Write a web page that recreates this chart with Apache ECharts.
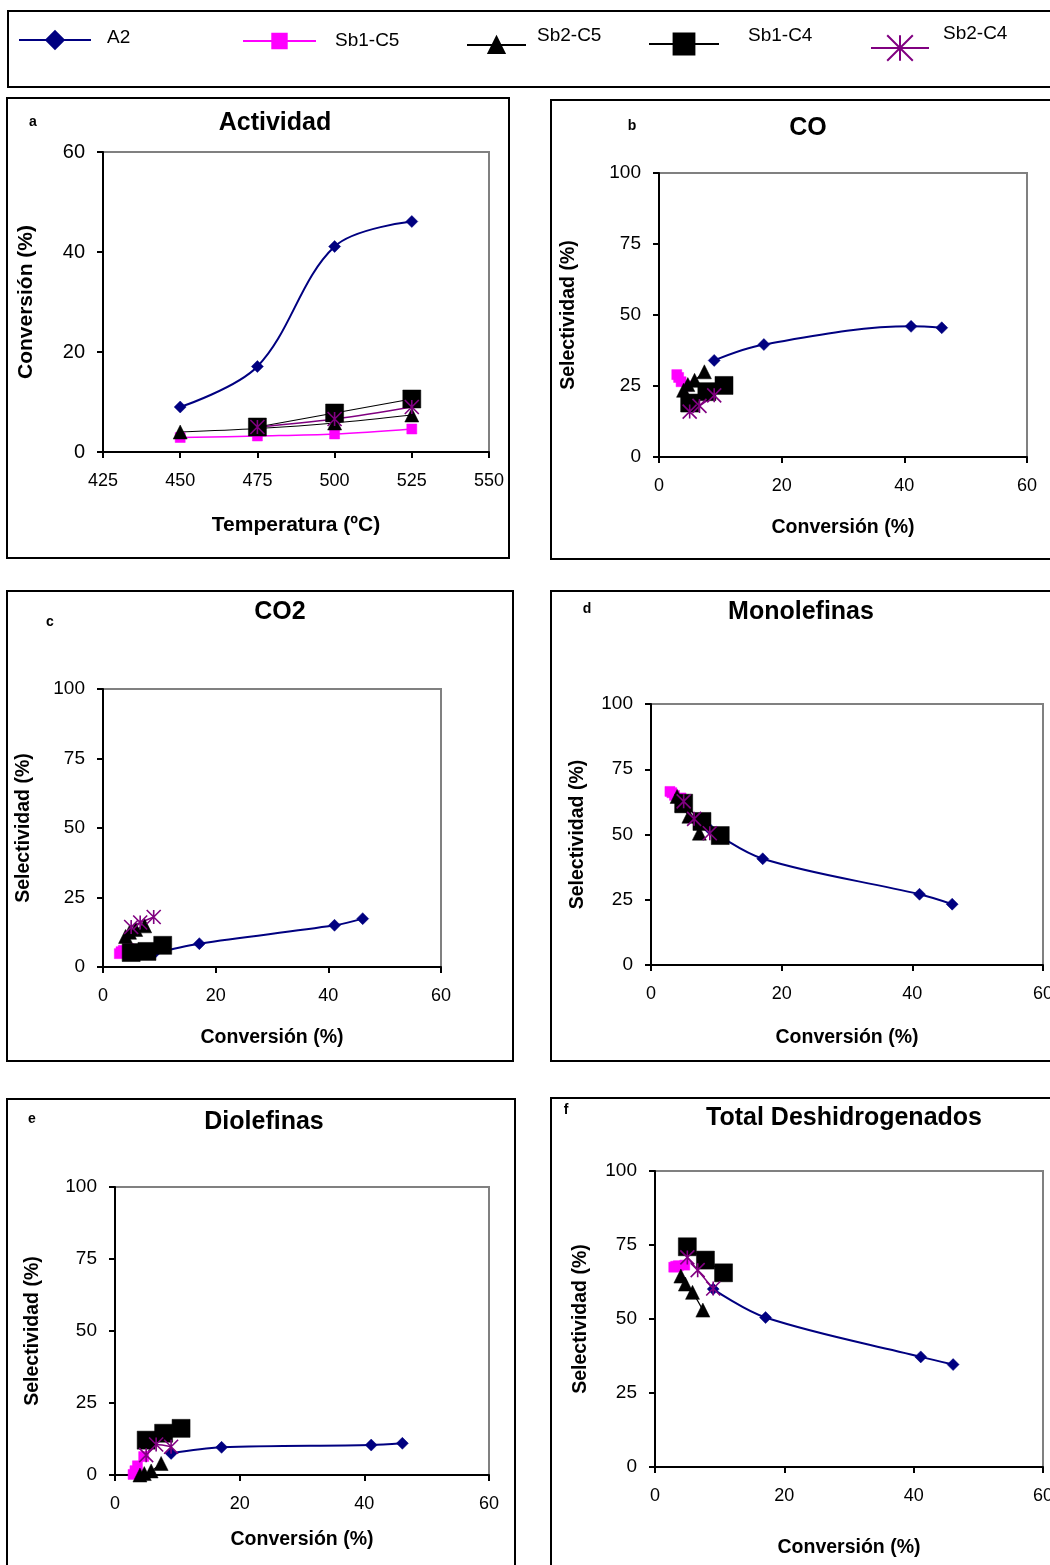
<!DOCTYPE html>
<html>
  <head>
    <meta charset="utf-8" />
    <title>Actividad y selectividad</title>
    <script src="https://cdn.jsdelivr.net/npm/echarts/dist/echarts.min.js"></script>
    <style>
      html, body { margin: 0; padding: 0; background: #fff; }
    </style>
  </head>
  <body>
    <div id="main" style="width: 1050px; height: 1565px"></div>
    <script type="text/javascript">
      // ---- data ----
      var catalysts = ["A2", "Sb1-C5", "Sb2-C5", "Sb1-C4", "Sb2-C4"];
      var temps = [450, 475, 500, 525];
      var tempsC4 = [475, 500, 525];

      // conversion (%) at each temperature
      var convA2 = [9.0, 17.1, 41.1, 46.1];
      var convSb1C5 = [2.9, 3.2, 3.6, 4.6];
      var convSb2C5 = [4.0, 4.7, 5.8, 7.4];
      var convSb1C4 = [5.0, 7.8, 10.6];
      var convSb2C4 = [5.0, 6.6, 9.0];

      // selectividad CO (%)
      var coA2 = [34, 39.6, 46, 45.5];
      var coSb1C5 = [29, 28, 26.5, 25];
      var coSb2C5 = [23.5, 25.5, 27, 30];
      var coSb1C4 = [19, 23, 25.2];
      var coSb2C4 = [16, 18, 21.7];

      // selectividad CO2 (%)
      var co2A2 = [4.8, 8.4, 15, 17.4];
      var co2Sb1C5 = [4.8, 5.5, 6, 6.6];
      var co2Sb2C5 = [11, 12.5, 13.5, 14.8];
      var co2Sb1C4 = [5.2, 5.6, 7.8];
      var co2Sb2C4 = [14.4, 16, 18];

      // selectividad monolefinas (%)
      var monoA2 = [52, 40.7, 27.1, 23.3];
      var monoSb1C5 = [66.5, 66, 65, 64];
      var monoSb2C5 = [64.6, 61, 57, 50.5];
      var monoSb1C4 = [62, 55, 49.6];
      var monoSb2C4 = [62.7, 56, 50.5];

      // selectividad diolefinas (%)
      var dioA2 = [7.5, 9.6, 10.4, 11];
      var dioSb1C5 = [0.2, 1.5, 3.2, 6.4];
      var dioSb2C5 = [0, 0.5, 1.4, 4];
      var dioSb1C4 = [12.1, 14.5, 16.2];
      var dioSb2C4 = [6.9, 10.6, 9.8];

      // selectividad total deshidrogenados (%)
      var totA2 = [60.1, 50.5, 37.2, 34.6];
      var totSb1C5 = [67.5, 67.8, 68, 68.2];
      var totSb2C5 = [64.5, 61.8, 59, 53];
      var totSb1C4 = [74.4, 69.9, 65.6];
      var totSb2C4 = [70.8, 66.5, 60.3];

      // ---- drawing ----
      var FONT = '"Liberation Sans", Arial, sans-serif';
      var starPath = "path://M0,0L20,20M20,0L0,20M10,0L10,20";

      var look = {
        "A2": { symbol: "diamond", size: 12, color: "#000080", width: 2 },
        "Sb1-C5": { symbol: "rect", size: 10, color: "#ff00ff", width: 1.5 },
        "Sb2-C5": { symbol: "triangle", size: 14, color: "#000000", width: 1.2 },
        "Sb1-C4": { symbol: "rect", size: 18, color: "#000000", width: 1.2 },
        "Sb2-C4": { symbol: starPath, size: 14, color: "#800080", width: 1.5 }
      };

      function zip(xs, ys) {
        return xs.map(function (x, i) { return [x, ys[i]]; });
      }

      var conv = [convA2, convSb1C5, convSb2C5, convSb1C4, convSb2C4];
      var panels = [
        { letter: "a", title: "Actividad", grid: [103, 152, 386, 300],
          sets: [zip(temps, convA2), zip(temps, convSb1C5), zip(temps, convSb2C5), zip(tempsC4, convSb1C4), zip(tempsC4, convSb2C4)] },
        { letter: "b", title: "CO", grid: [659, 173, 368, 284],
          sets: [coA2, coSb1C5, coSb2C5, coSb1C4, coSb2C4].map(function (s, k) { return zip(conv[k], s); }) },
        { letter: "c", title: "CO2", grid: [103, 689, 338, 278],
          sets: [co2A2, co2Sb1C5, co2Sb2C5, co2Sb1C4, co2Sb2C4].map(function (s, k) { return zip(conv[k], s); }) },
        { letter: "d", title: "Monolefinas", grid: [651, 704, 392, 261],
          sets: [monoA2, monoSb1C5, monoSb2C5, monoSb1C4, monoSb2C4].map(function (s, k) { return zip(conv[k], s); }) },
        { letter: "e", title: "Diolefinas", grid: [115, 1187, 374, 288],
          sets: [dioA2, dioSb1C5, dioSb2C5, dioSb1C4, dioSb2C4].map(function (s, k) { return zip(conv[k], s); }) },
        { letter: "f", title: "Total Deshidrogenados", grid: [655, 1171, 388, 296],
          sets: [totA2, totSb1C5, totSb2C5, totSb1C4, totSb2C4].map(function (s, k) { return zip(conv[k], s); }) }
      ];

      // label placement per panel: [titleX, titleY, letterX, letterY, xNameGap, yNameGap]
      var place = [
        [275, 123, 33, 122, 63, 66],
        [808, 128, 632, 126, 61, 80],
        [280, 612, 50, 622, 61, 69],
        [801, 612, 587, 609, 63, 63],
        [264, 1122, 32, 1119, 55, 72],
        [844, 1118, 566, 1110, 71, 64]
      ];
      var boxes = [
        [8, 11, 1050, 76],
        [7, 98, 502, 460],
        [551, 100, 510, 459],
        [7, 591, 506, 470],
        [551, 591, 510, 470],
        [7, 1099, 508, 480],
        [551, 1098, 510, 480]
      ];

      var axisLine = { show: true, onZero: false, lineStyle: { color: "#000", width: 2 } };
      var axisTick = { show: true, length: 6, lineStyle: { color: "#000", width: 2 } };

      var grids = [], xAxes = [], yAxes = [], series = [], graphic = [];

      boxes.forEach(function (b) {
        graphic.push({ type: "rect", silent: true, shape: { x: b[0], y: b[1], width: b[2], height: b[3] },
          style: { fill: "none", stroke: "#000", lineWidth: 2 } });
      });

      function addText(txt, x, y, font, align) {
        graphic.push({ type: "text", silent: true, x: x, y: y,
          style: { text: txt, font: font, fill: "#000",
            textAlign: align, textVerticalAlign: "middle", align: align, verticalAlign: "middle" } });
      }

      panels.forEach(function (p, i) {
        var pl = place[i];
        grids.push({ left: p.grid[0], top: p.grid[1], width: p.grid[2], height: p.grid[3],
          show: true, borderColor: "#808080", borderWidth: 2, containLabel: false, outerBoundsMode: "none" });
        var first = i === 0;
        xAxes.push({
          gridIndex: i, type: "value",
          min: first ? 425 : 0, max: first ? 550 : 60, interval: first ? 25 : 20,
          axisLine: axisLine, axisTick: axisTick, splitLine: { show: false },
          axisLabel: { color: "#000", fontSize: 18, fontFamily: FONT, margin: 20, showMaxLabel: true, showMinLabel: true },
          name: first ? "Temperatura (ºC)" : "Conversión (%)",
          nameLocation: "middle", nameGap: pl[4],
          nameTextStyle: { color: "#000", fontWeight: "bold", fontSize: first ? 21 : 19.5, fontFamily: FONT }
        });
        yAxes.push({
          gridIndex: i, type: "value",
          min: 0, max: first ? 60 : 100, interval: first ? 20 : 25,
          axisLine: axisLine, axisTick: axisTick, splitLine: { show: false },
          axisLabel: { color: "#000", fontSize: first ? 20 : 19, fontFamily: FONT, margin: 18 },
          name: first ? "Conversión (%)" : "Selectividad (%)",
          nameLocation: "middle", nameGap: pl[5],
          nameTextStyle: { color: "#000", fontWeight: "bold", fontSize: first ? 21 : 19.5, fontFamily: FONT }
        });
        catalysts.forEach(function (name, k) {
          var s = look[name];
          series.push({
            name: name, type: "line", xAxisIndex: i, yAxisIndex: i,
            data: p.sets[k], smooth: 0.35,
            symbol: s.symbol, symbolSize: s.size, showAllSymbol: true,
            lineStyle: { color: s.color, width: s.width },
            itemStyle: { color: s.color, borderColor: s.color, borderWidth: name === "Sb2-C4" ? 1.6 : 0.5 },
            emphasis: { disabled: true }
          });
        });
        addText(p.title, pl[0], pl[1], "bold 25px " + FONT, "center");
        addText(p.letter, pl[2], pl[3], "bold 14px " + FONT, "center");
      });

      // key: icon from the library legend, name set beside it as in the original
      // [iconLeft, iconCenterY, iconWidth, iconHeight, textLeft, textCenterY]
      var legendSpots = [
        [18, 40, 72, 22, 107, 38],
        [242, 41, 73, 18, 335, 41],
        [466, 45, 59, 20, 537, 36],
        [648, 44, 70, 26, 748, 36],
        [870, 48, 58, 32, 943, 34]
      ];
      var legends = catalysts.map(function (name, k) {
        var l = legendSpots[k];
        addText(name, l[4], l[5], "19px " + FONT, "left");
        return { data: [name], left: l[0], top: l[1] - l[3] / 2, itemWidth: l[2], itemHeight: l[3],
          padding: 0, selectedMode: false, formatter: function () { return ""; },
          textStyle: { fontSize: 1 } };
      });

      var myChart = echarts.init(document.getElementById("main"));
      var option = {
        backgroundColor: "#fff",
        animation: false,
        legend: legends,
        grid: grids,
        xAxis: xAxes,
        yAxis: yAxes,
        series: series,
        graphic: graphic
      };
      myChart.setOption(option);
    </script>
  </body>
</html>
